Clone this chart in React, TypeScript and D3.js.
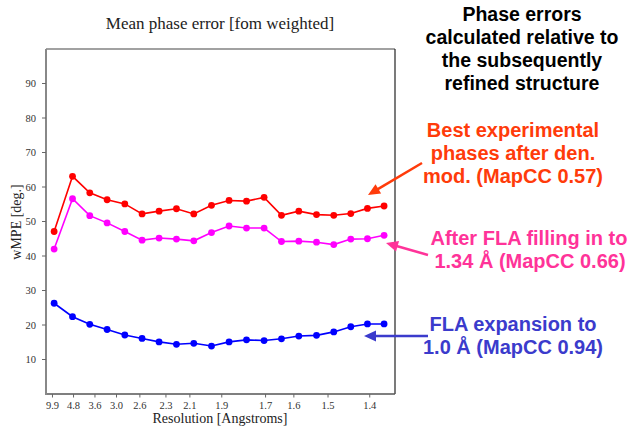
import React from "react";
import * as d3 from "d3";

// x values are 1/d^2 (Å^-2) of each resolution bin
const binS = [0.0128, 0.0418, 0.069, 0.0963, 0.1242, 0.1514, 0.1782, 0.2056, 0.2329, 0.2608, 0.2885, 0.316, 0.3437, 0.3711, 0.3984, 0.4263, 0.4535, 0.4803, 0.5066, 0.5328];
const bestExperimental = [47.1, 63.1, 58.3, 56.3, 55.1, 52.2, 53.0, 53.7, 52.2, 54.7, 56.1, 55.9, 57.0, 51.8, 53.0, 52.0, 51.8, 52.3, 53.8, 54.5];
const flaFilling = [42.0, 56.6, 51.7, 49.6, 47.1, 44.6, 45.2, 44.9, 44.4, 46.8, 48.7, 48.1, 48.1, 44.2, 44.3, 44.0, 43.3, 44.9, 45.0, 46.0];
const flaExpansion = [26.3, 22.4, 20.2, 18.7, 17.1, 16.1, 15.1, 14.4, 14.7, 13.9, 15.1, 15.7, 15.5, 16.0, 16.8, 17.0, 18.0, 19.5, 20.3, 20.3];
const xTickRes = [9.9, 4.8, 3.6, 3.0, 2.6, 2.3, 2.1, 1.9, 1.7, 1.6, 1.5, 1.4];
const yTicks = [10, 20, 30, 40, 50, 60, 70, 80, 90];

const seriesList = [
  { name: "best", values: bestExperimental, color: "#ff0000" },
  { name: "fill", values: flaFilling, color: "#ff00ff" },
  { name: "exp", values: flaExpansion, color: "#0000ff" },
];

const W = 629, H = 427;
const L = 46, R = 395, T = 49, B = 394;

function Arrow({ x1, y1, x2, y2, color, width = 2.5, head = 12, hw = 5.5 }) {
  const dx = x2 - x1, dy = y2 - y1;
  const len = Math.sqrt(dx * dx + dy * dy);
  const ux = dx / len, uy = dy / len;
  const bx = x2 - ux * head, by = y2 - uy * head;
  const px = -uy, py = ux;
  const pts = `${x2},${y2} ${bx + px * hw},${by + py * hw} ${bx - px * hw},${by - py * hw}`;
  return (
    <g>
      <line x1={x1} y1={y1} x2={bx + ux * 1} y2={by + uy * 1} stroke={color} strokeWidth={width} />
      <polygon points={pts} fill={color} />
    </g>
  );
}

export default function App() {
  const x = d3.scaleLinear().domain([0, 0.55]).range([L, R]);
  const y = d3.scaleLinear().domain([0, 100]).range([B, T]);
  const serif = "'Liberation Serif', 'DejaVu Serif', serif";
  const sans = "'Liberation Sans', Arial, sans-serif";

  return (
    <svg width={W} height={H} style={{ position: "absolute", left: 0, top: 0, background: "#fff" }}>
      <rect x={0} y={0} width={W} height={H} fill="#fff" />
      <text x={220} y={29} textAnchor="middle" fontFamily={serif} fontSize={17} fill="#222">
        Mean phase error [fom weighted]
      </text>
      {/* frame */}
      <line x1={L} y1={T} x2={R} y2={T} stroke="#444" strokeWidth={1.2} />
      <line x1={R} y1={T} x2={R} y2={B} stroke="#222" strokeWidth={1.2} />
      <line x1={L - 1} y1={B} x2={R} y2={B} stroke="#555" strokeWidth={1.5} />
      <line x1={L} y1={T} x2={L} y2={B + 1} stroke="#888" strokeWidth={2} />
      {/* y ticks */}
      {yTicks.map((t) => (
        <g key={"y" + t}>
          <line x1={L - 4} x2={L} y1={y(t)} y2={y(t)} stroke="#666" strokeWidth={1} />
          <text x={36} y={y(t) + 3.5} textAnchor="end" fontFamily={serif} fontSize={10.5} fill="#333">
            {t}
          </text>
        </g>
      ))}
      {/* x ticks */}
      {xTickRes.map((r) => {
        const xv = x(1 / (r * r));
        return (
          <g key={"x" + r}>
            <line x1={xv} x2={xv} y1={B} y2={B + 3.5} stroke="#666" strokeWidth={1} />
            <text x={xv} y={409} textAnchor="middle" fontFamily={serif} fontSize={10.5} fill="#333">
              {r.toFixed(1)}
            </text>
          </g>
        );
      })}
      <text x={220} y={423} textAnchor="middle" fontFamily={serif} fontSize={14} fill="#222">
        Resolution [Angstroms]
      </text>
      <text transform="translate(21,222) rotate(-90)" textAnchor="middle" fontFamily={serif} fontSize={14} fill="#222">
        wMPE [deg.]
      </text>
      {/* series */}
      {seriesList.map((s) => {
        const pts = s.values.map((v, i) => [x(binS[i]), y(v)] as [number, number]);
        const line = d3.line();
        return (
          <g key={s.name}>
            <path d={line(pts) || ""} fill="none" stroke={s.color} strokeWidth={1.6} />
            {pts.map((p, i) => (
              <circle key={i} cx={p[0]} cy={p[1]} r={3.4} fill={s.color} />
            ))}
          </g>
        );
      })}
      {/* annotations */}
      <g fontFamily={sans} fontWeight="bold" textAnchor="middle">
        <g fontSize={19.5}>
          <text x={522} y={21} fill="#000">Phase errors</text>
          <text x={522} y={44} fill="#000">calculated relative to</text>
          <text x={522} y={67} fill="#000">the subsequently</text>
          <text x={522} y={90} fill="#000">refined structure</text>
        </g>
        <g fontSize={20}>
          <text x={513} y={137} fill="#ff3b0a">Best experimental</text>
          <text x={513} y={160} fill="#ff3b0a">phases after den.</text>
          <text x={513} y={183} fill="#ff3b0a">mod. (MapCC 0.57)</text>

          <text x={529} y={245} fill="#ff3399">After FLA filling in to</text>
          <text x={530} y={268} fill="#ff3399">1.34 Å (MapCC 0.66)</text>

          <text x={513} y={331} fill="#3b3bcc">FLA expansion to</text>
          <text x={513} y={354} fill="#3b3bcc">1.0 Å (MapCC 0.94)</text>
        </g>
      </g>
      <Arrow x1={422} y1={163} x2={368} y2={195} color="#ff3b0a" />
      <Arrow x1={428} y1={255} x2={386} y2={243} color="#ff3399" />
      <Arrow x1={428} y1={336} x2={364} y2={336} color="#3b3bcc" />
    </svg>
  );
}
